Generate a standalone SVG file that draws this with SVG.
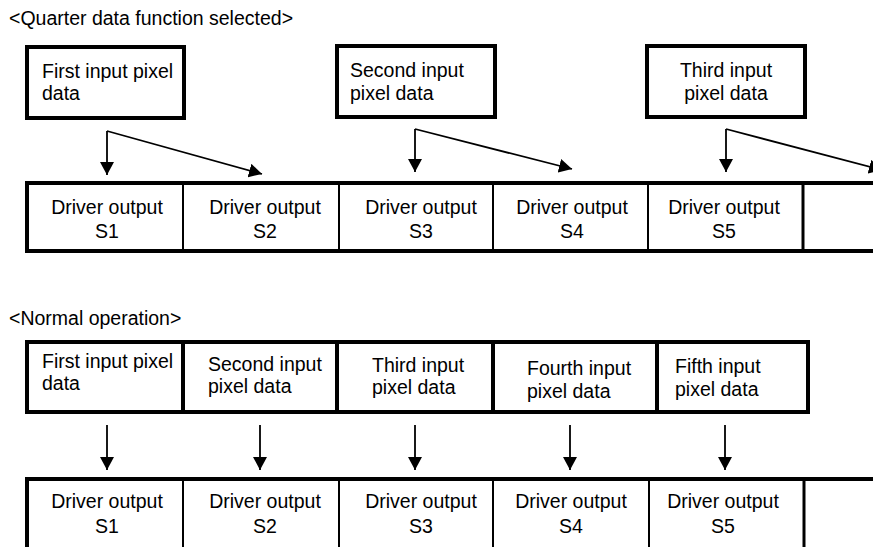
<svg xmlns="http://www.w3.org/2000/svg" width="873" height="547" viewBox="0 0 873 547">
<defs>
<marker id="ah" viewBox="0 0 13 14" refX="13" refY="7" markerWidth="13" markerHeight="14" markerUnits="userSpaceOnUse" orient="auto">
<path d="M0,0 L13,7 L0,14 Z" fill="#000"/>
</marker>
<style>
text{font-family:"Liberation Sans",Arial,sans-serif;font-size:19.5px;fill:#000}
.c{text-anchor:middle}
.box{fill:#fff;stroke:#000;stroke-width:4}
.thick{stroke:#000;stroke-width:4;fill:none}
.thin{stroke:#000;stroke-width:2;fill:none}
.arr{stroke:#000;stroke-width:1.8;fill:none;marker-end:url(#ah)}
</style>
</defs>
<rect width="873" height="547" fill="#fff"/>

<text x="9" y="25">&lt;Quarter data function selected&gt;</text>
<text x="9" y="325">&lt;Normal operation&gt;</text>

<!-- Quarter input boxes -->
<g id="q-in1"><rect class="box" x="27" y="47" width="157" height="71"/><text x="42" y="78">First input pixel</text><text x="42" y="100">data</text></g>
<g id="q-in2"><rect class="box" x="337" y="46" width="158" height="71"/><text x="350" y="77">Second input</text><text x="350" y="100">pixel data</text></g>
<g id="q-in3"><rect class="box" x="647" y="46" width="158" height="71"/><text class="c" x="726" y="77">Third input</text><text class="c" x="726" y="100">pixel data</text></g>

<!-- Quarter driver row -->
<g id="q-row">
<path class="thick" d="M885,183 H27 V251 H885"/>
<path class="thin" d="M183,183 V251 M339,183 V251 M493,183 V251 M648,183 V251"/>
<path d="M803,183 V251" stroke="#000" stroke-width="3"/>
</g>
<g id="q-s1"><text class="c" x="107" y="214">Driver output</text><text class="c" x="107" y="238">S1</text></g>
<g id="q-s2"><text class="c" x="265" y="214">Driver output</text><text class="c" x="265" y="238">S2</text></g>
<g id="q-s3"><text class="c" x="421" y="214">Driver output</text><text class="c" x="421" y="238">S3</text></g>
<g id="q-s4"><text class="c" x="572" y="214">Driver output</text><text class="c" x="572" y="238">S4</text></g>
<g id="q-s5"><text class="c" x="724" y="214">Driver output</text><text class="c" x="724" y="238">S5</text></g>

<!-- Normal input row -->
<g id="n-row-in">
<rect class="box" x="27" y="342" width="781" height="70"/>
<path class="thick" d="M183,342 V412 M337,342 V412 M493,342 V412 M657,342 V412"/>
</g>
<g id="n-in1"><text x="42" y="368">First input pixel</text><text x="42" y="390">data</text></g>
<g id="n-in2"><text x="208" y="371">Second input</text><text x="208" y="393">pixel data</text></g>
<g id="n-in3"><text x="372" y="372">Third input</text><text x="372" y="394">pixel data</text></g>
<g id="n-in4"><text x="527" y="375">Fourth input</text><text x="527" y="398">pixel data</text></g>
<g id="n-in5"><text x="675" y="373">Fifth input</text><text x="675" y="396">pixel data</text></g>

<!-- Normal driver row -->
<g id="n-row">
<path class="thick" d="M885,479 H27 V560"/>
<path class="thin" d="M183,479 V560 M339,479 V560 M493,479 V560 M649,479 V560"/>
<path d="M804,479 V560" stroke="#000" stroke-width="3"/>
</g>
<g id="n-s1"><text class="c" x="107" y="508">Driver output</text><text class="c" x="107" y="533">S1</text></g>
<g id="n-s2"><text class="c" x="265" y="508">Driver output</text><text class="c" x="265" y="533">S2</text></g>
<g id="n-s3"><text class="c" x="421" y="508">Driver output</text><text class="c" x="421" y="533">S3</text></g>
<g id="n-s4"><text class="c" x="571" y="508">Driver output</text><text class="c" x="571" y="533">S4</text></g>
<g id="n-s5"><text class="c" x="723" y="508">Driver output</text><text class="c" x="723" y="533">S5</text></g>

<!-- Connectors -->
<g id="connectors">
<path class="arr" d="M107,131 V175"/>
<path class="arr" d="M107,131 L262,174"/>
<path class="arr" d="M415,129 V172"/>
<path class="arr" d="M415,129 L572,169"/>
<path class="arr" d="M726,129 V172"/>
<path class="arr" d="M726,129 L882,170"/>
<path class="arr" d="M107,425 V470"/>
<path class="arr" d="M260,425 V470"/>
<path class="arr" d="M415,425 V470"/>
<path class="arr" d="M570,425 V470"/>
<path class="arr" d="M725,425 V470"/>
</g>
</svg>
